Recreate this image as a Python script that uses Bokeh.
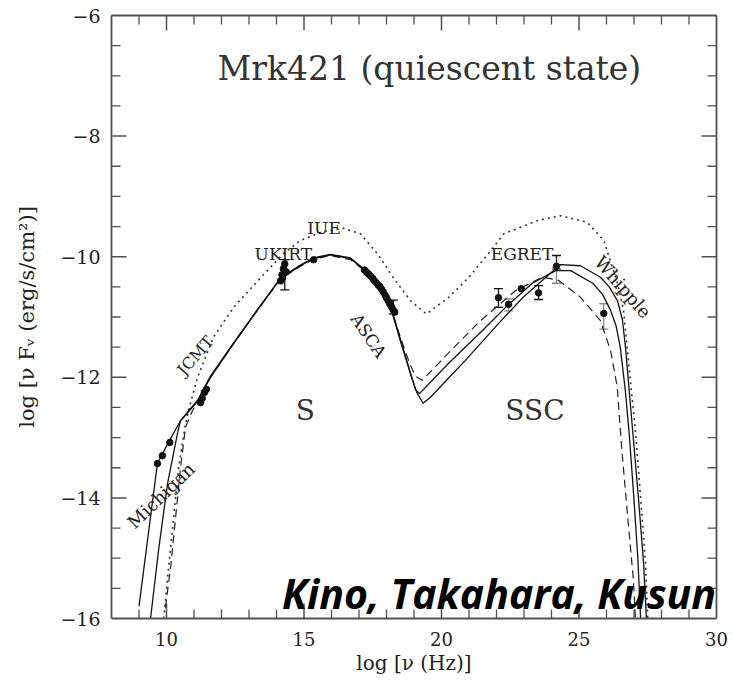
from bokeh.plotting import figure
from bokeh.models import (ColumnDataSource, LinearAxis, FixedTicker, Label,
                          Whisker, TeeHead, CustomJSTickFormatter, Range1d)
from bokeh.embed import file_html
from bokeh.resources import INLINE
import math

# ---------------- data ----------------
# model curve A (outer solid)
a_x = [9.0, 9.31, 9.67, 10.07, 10.51, 11.13, 11.6, 12.44, 13.3, 14.15, 14.87, 15.35,
       15.96, 16.69, 17.3, 17.78, 18.15, 18.5, 18.87, 19.1, 19.33, 19.6, 20.2, 20.87,
       22.07, 22.95, 23.67, 24.33, 25.05, 25.78, 26.1, 26.4, 26.58, 26.69, 26.95, 27.16, 27.35, 27.45]
a_y = [-15.8, -14.7, -13.43, -13.08, -12.72, -12.4, -12.0, -11.44, -10.89, -10.36, -10.15, -10.03,
       -9.97, -10.03, -10.26, -10.51, -10.84, -11.39, -11.94, -12.25, -12.43, -12.33, -12.04, -11.72,
       -11.11, -10.68, -10.39, -10.13, -10.15, -10.34, -10.5, -10.73, -11.05, -11.5, -12.88, -13.99, -15.09, -16.0]

# model curve B (inner solid)
b_x = [9.42, 9.71, 10.04, 10.4, 10.51, 11.13, 11.6, 12.44, 13.3, 14.15, 14.87, 15.35,
       15.96, 16.69, 17.3, 17.78, 18.15, 18.5, 18.85, 19.05, 19.2, 20.25, 21.5, 22.33,
       23.3, 24.15, 24.7, 25.5, 25.85, 26.15, 26.35, 26.5, 26.68, 26.82, 26.98, 27.14, 27.24]
b_y = [-16.0, -14.87, -13.76, -12.93, -12.72, -12.38, -11.98, -11.43, -10.88, -10.35, -10.14, -10.02,
       -9.96, -10.02, -10.25, -10.5, -10.83, -11.36, -11.9, -12.2, -12.27, -11.77, -11.22, -10.84,
       -10.44, -10.23, -10.23, -10.44, -10.62, -10.89, -11.15, -11.5, -12.2, -12.9, -13.9, -15.0, -16.0]

# model curve C (dashed)
c_x = [9.96, 10.15, 10.33, 10.51, 10.69, 10.95, 11.3, 11.6, 12.44, 13.3, 14.15, 14.87,
       15.35, 15.96, 16.69, 17.3, 17.78, 18.15, 18.5, 18.85, 19.05, 19.3, 20.25, 21.35,
       22.7, 23.67, 24.25, 25.05, 25.78, 26.15, 26.39, 26.55, 26.76, 26.98, 27.05]
c_y = [-15.82, -15.15, -14.33, -13.5, -12.83, -12.55, -12.28, -12.0, -11.44, -10.89, -10.37, -10.16,
       -10.04, -9.98, -10.05, -10.27, -10.52, -10.84, -11.33, -11.78, -11.98, -12.05, -11.6, -11.09,
       -10.56, -10.34, -10.39, -10.67, -11.06, -11.56, -12.16, -13.16, -14.26, -15.37, -15.98]

# model curve D (dotted)
d_x = [9.9, 10.02, 10.2, 10.44, 10.69, 10.87, 11.13, 11.7, 12.44, 13.42, 14.25, 14.87,
       15.7, 16.44, 17.05, 17.67, 18.25, 18.87, 19.45, 20.25, 21.0, 21.7, 22.27, 23.5,
       24.33, 25.3, 25.9, 26.4, 26.62, 26.81, 27.05, 27.24, 27.42, 27.5]
d_y = [-16.0, -15.42, -14.59, -13.5, -12.77, -12.43, -12.0, -11.34, -10.84, -10.35, -9.95, -9.73,
       -9.58, -9.53, -9.62, -9.95, -10.35, -10.73, -10.95, -10.68, -10.34, -9.95, -9.62, -9.4,
       -9.32, -9.43, -9.73, -10.44, -10.89, -11.78, -12.88, -13.99, -15.09, -16.0]

# observed points
pt_x = [9.67, 9.85, 10.12,
        11.24, 11.3, 11.38, 11.45,
        14.15, 14.2, 14.25, 14.3, 14.35, 14.22,
        15.35,
        17.2, 17.28, 17.35, 17.42, 17.5, 17.56, 17.62, 17.7, 17.76,
        17.82, 17.88, 17.95, 18.0, 18.06, 18.12, 18.18, 18.24, 18.3,
        22.07, 22.44, 22.9, 23.53, 24.18, 25.9]
pt_y = [-13.43, -13.3, -13.08,
        -12.42, -12.35, -12.25, -12.2,
        -10.4, -10.3, -10.2, -10.12, -10.25, -10.35,
        -10.05,
        -10.22, -10.26, -10.29, -10.32, -10.36, -10.4, -10.43, -10.47, -10.5,
        -10.54, -10.58, -10.64, -10.68, -10.73, -10.78, -10.83, -10.88, -10.92,
        -10.68, -10.79, -10.53, -10.6, -10.16, -10.94]

# error bars (black)
eb_x = [14.3, 18.25, 22.07, 23.53, 24.18]
eb_lo = [-10.55, -10.95, -10.84, -10.71, -10.2]
eb_hi = [-10.05, -10.72, -10.53, -10.48, -9.98]
# error bars (grey)
eg_x = [22.44, 24.18, 25.9]
eg_lo = [-10.9, -10.44, -11.2]
eg_hi = [-10.7, -10.2, -10.78]

x_range = (8, 30)
y_range = (-16, -6)
x_major = [10, 15, 20, 25, 30]
x_minor = list(range(8, 31))
y_major = [-16, -14, -12, -10, -8, -6]
y_minor = [-16 + 0.5 * i for i in range(21)]

# ---------------- figure ----------------
p = figure(output_backend="svg", toolbar_location=None,
           frame_width=605, frame_height=603,
           min_border_left=111, min_border_right=17,
           min_border_top=15, min_border_bottom=63,
           x_range=Range1d(*x_range), y_range=Range1d(*y_range),
           x_axis_type=None, y_axis_type=None)
p.background_fill_color = "white"
p.border_fill_color = "white"
p.outline_line_color = None
p.xgrid.visible = False
p.ygrid.visible = False

SERIF = "DejaVu Serif"
AX = "#505050"

fmt = CustomJSTickFormatter(code="return (tick < 0 ? '\u2212' : '') + Math.abs(tick).toFixed(0);")
blank = CustomJSTickFormatter(code="return '';")

xt = FixedTicker(ticks=x_major, minor_ticks=x_minor)
yt = FixedTicker(ticks=y_major, minor_ticks=y_minor)


def style(ax, labels, tick_size="18px", label_size="20px"):
    ax.axis_line_color = AX
    ax.axis_line_width = 1.8
    ax.major_tick_in = 0
    ax.major_tick_out = 0
    ax.minor_tick_in = 0
    ax.minor_tick_out = 0
    ax.major_label_text_font = SERIF
    ax.major_label_text_font_size = tick_size
    ax.major_label_text_color = "#222222"
    ax.axis_label_text_font = SERIF
    ax.axis_label_text_font_size = label_size
    ax.axis_label_text_font_style = "normal"
    ax.axis_label_text_color = "#222222"
    if not labels:
        ax.major_label_text_font_size = "0px"


xb = LinearAxis(ticker=xt, formatter=fmt, axis_label="log [\u03bd (Hz)]")
style(xb, True, "18px", "20px")
xb.major_label_standoff = 13
xb.axis_label_standoff = 2
p.add_layout(xb, "below")

yl = LinearAxis(ticker=yt, formatter=fmt,
                axis_label="log [\u03bd F\u1d65 (erg/s/cm\u00b2)]")
style(yl, True, "19px", "21px")
yl.major_label_standoff = 11
yl.axis_label_standoff = 18
p.add_layout(yl, "left")

xa = LinearAxis(ticker=xt, formatter=blank)
style(xa, False)
xa.major_label_standoff = 0
p.add_layout(xa, "above")

yr = LinearAxis(ticker=yt, formatter=blank)
style(yr, False)
yr.major_label_standoff = 0
p.add_layout(yr, "right")

# inward tick marks on all four sides (positions from the tick lists)
TK = dict(line_color=AX, length_units="screen", angle_units="deg")
xmaj_b = [v for v in x_major if x_range[0] < v < x_range[1]]
xmin_b = [v for v in x_minor if x_range[0] < v < x_range[1] and v not in x_major]
ymaj_b = [v for v in y_major if y_range[0] < v < y_range[1]]
ymin_b = [v for v in y_minor if y_range[0] < v < y_range[1] and v not in y_major]
p.ray(x=xmaj_b, y=[y_range[0]] * len(xmaj_b), length=15, angle=90, line_width=1.5, **TK)
p.ray(x=xmin_b, y=[y_range[0]] * len(xmin_b), length=9, angle=90, line_width=1.3, **TK)
p.ray(x=xmaj_b, y=[y_range[1]] * len(xmaj_b), length=15, angle=-90, line_width=1.5, **TK)
p.ray(x=xmin_b, y=[y_range[1]] * len(xmin_b), length=9, angle=-90, line_width=1.3, **TK)
p.ray(x=[x_range[0]] * len(ymaj_b), y=ymaj_b, length=15, angle=0, line_width=1.5, **TK)
p.ray(x=[x_range[0]] * len(ymin_b), y=ymin_b, length=9, angle=0, line_width=1.3, **TK)
p.ray(x=[x_range[1]] * len(ymaj_b), y=ymaj_b, length=15, angle=180, line_width=1.5, **TK)
p.ray(x=[x_range[1]] * len(ymin_b), y=ymin_b, length=9, angle=180, line_width=1.3, **TK)

# ---------------- curves ----------------
p.line(d_x, d_y, line_color="#333333", line_width=1.6, line_dash="2 4")
p.line(c_x, c_y, line_color="#222222", line_width=1.2, line_dash="8 5")
p.line(b_x, b_y, line_color="#111111", line_width=1.3)
p.line(a_x, a_y, line_color="#111111", line_width=1.3)

# ---------------- data points ----------------
src_b = ColumnDataSource(dict(x=eb_x, lo=eb_lo, hi=eb_hi))
p.add_layout(Whisker(source=src_b, base="x", lower="lo", upper="hi", dimension="height",
                     line_color="#111111", line_width=1.3,
                     upper_head=TeeHead(size=9, line_color="#111111", line_width=1.3),
                     lower_head=TeeHead(size=9, line_color="#111111", line_width=1.3)))
src_g = ColumnDataSource(dict(x=eg_x, lo=eg_lo, hi=eg_hi))
p.add_layout(Whisker(source=src_g, base="x", lower="lo", upper="hi", dimension="height",
                     line_color="#8a8a8a", line_width=1.3,
                     upper_head=TeeHead(size=9, line_color="#8a8a8a", line_width=1.3),
                     lower_head=TeeHead(size=9, line_color="#8a8a8a", line_width=1.3)))
p.scatter(pt_x, pt_y, marker="circle", size=6.5, fill_color="#111111", line_color="#111111")

# ---------------- texts ----------------
def lab(x, y, t, size, angle=0.0, align="center", baseline="alphabetic", font=SERIF,
        style_="normal", color="#222222"):
    p.add_layout(Label(x=x, y=y, text=t, text_font=font, text_font_size=size,
                       text_align=align, text_baseline=baseline, text_color=color,
                       text_font_style=style_, angle=math.radians(angle)))


lab(11.85, -6.88, "Mrk421 (quiescent state)", "33px", align="left", color="#333333")
lab(15.73, -9.52, "IUE", "17px")
lab(14.25, -9.95, "UKIRT", "17px")
lab(22.93, -9.95, "EGRET", "17px")
lab(15.05, -12.55, "S", "28px", color="#333333")
lab(23.4, -12.55, "SSC", "28px", color="#333333")
lab(11.05, -11.64, "JCMT", "16px", angle=49, baseline="middle")
lab(17.35, -11.31, "ASCA", "17px", angle=-56, baseline="middle")
lab(26.6, -10.5, "Whipple", "18px", angle=-49, baseline="middle")
lab(9.8, -13.96, "Michigan", "18px", angle=44, baseline="middle")

lab(14.2, -15.57, "Kino, Takahara, Kusun", "41px", align="left",
    font="Open Sans", style_="bold italic", color="black")

with open("out.html", "w", encoding="utf-8") as f:
    f.write(file_html(p, INLINE))
